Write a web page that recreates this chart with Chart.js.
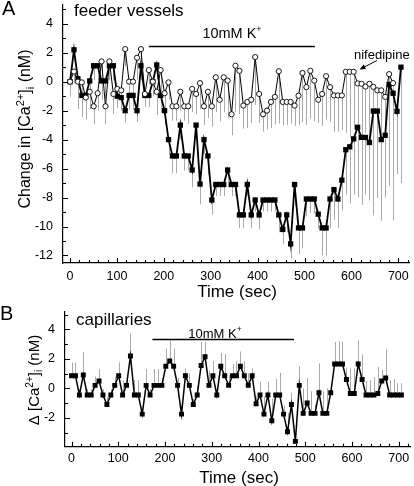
<!DOCTYPE html>
<html>
<head>
<meta charset="utf-8">
<script src="https://cdn.jsdelivr.net/npm/chart.js@4.4.1/dist/chart.umd.min.js"></script>
<style>
  html, body { margin: 0; padding: 0; background: #fff; }
  #wrap { position: relative; width: 414px; height: 486px; overflow: hidden; }
  canvas { position: absolute; left: 0; }
  #chartA { top: 0; }
  #chartB { top: 300px; }
</style>
</head>
<body>
<div id="wrap">
  <canvas id="chartA" width="414" height="302"></canvas>
  <canvas id="chartB" width="414" height="186"></canvas>
</div>
<script>
var FONT = '"Liberation Sans", Arial, Helvetica, sans-serif';

// sample times (sec), both panels
var time = [0, 8.4, 16.8, 25.2, 33.6, 42, 50.4, 58.8, 67.2, 75.6,
  84, 92.4, 100.8, 109.2, 117.6, 126, 134.4, 142.8, 151.2, 159.6,
  168, 176.4, 184.8, 193.2, 201.6, 210, 218.4, 226.8, 235.2, 243.6,
  252, 260.4, 268.8, 277.2, 285.6, 294, 302.4, 310.8, 319.2, 327.6,
  336, 344.4, 352.8, 361.2, 369.6, 378, 386.4, 394.8, 403.2, 411.6,
  420, 428.4, 436.8, 445.2, 453.6, 462, 470.4, 478.8, 487.2, 495.6,
  504, 512.4, 520.8, 529.2, 537.6, 546, 554.4, 562.8, 571.2, 579.6,
  588, 596.4, 604.8, 613.2, 621.6, 630, 638.4, 646.8, 655.2, 663.6,
  672, 680.4, 688.8, 697.2, 705.6];

// A: feeder vessels, 10mM K+ (filled squares), error bars downward
var feederK = [0, 2.2, 0.2, -0.95, -0.95, 0.05, 1.1, 1.1, 0.05, 0.05,
  1.1, 1.1, -1.0, -1.1, -2.0, -0.95, -0.95, -2.0, 1.1, -0.95,
  -0.95, 0.0, 1.15, -0.95, -2.0, -4.0, -5.13, -5.13, -3.0, -5.13,
  -5.13, -6.1, -3.0, -7.07, -4.0, -5.13, -8.17, -7.1, -7.1, -7.1,
  -6.1, -7.1, -7.1, -9.2, -9.2, -7.1, -9.2, -8.17, -9.2, -8.17,
  -8.17, -8.17, -8.17, -9.2, -10.2, -9.2, -11.2, -7.1, -10.1, -10.1,
  -8.1, -8.1, -8.1, -9.15, -10.1, -10.1, -8.1, -7.45, -8.1, -6.8,
  -4.7, -4.5, -3.95, -3.15, -3.85, -3.85, -4.2, -2.03, -2.03, -4.0,
  -3.7, -0.2, -0.8, -2.05, 1.0];
var feederKErr = [0.6, 0.8, 1.0, 1.5, 1.6, 1.0, 1.0, 1.0, 1.3, 1.2,
  1.0, 1.0, 0.8, 0.9, 0.8, 1.0, 1.0, 0.8, 1.0, 0.8,
  0.8, 1.0, 1.0, 1.2, 1.0, 1.0, 1.2, 1.2, 1.0, 1.0,
  1.0, 1.2, 1.0, 1.4, 1.0, 1.3, 1.0, 0.8, 0.8, 0.8,
  1.2, 0.8, 0.8, 0.9, 0.9, 0.8, 0.9, 0.8, 1.0, 0.8,
  0.8, 0.8, 0.8, 1.2, 1.0, 1.2, 1.0, 1.5, 1.8, 1.4,
  1.2, 1.0, 1.0, 1.0, 1.9, 1.9, 2.0, 2.1, 2.0, 2.1,
  3.1, 3.9, 3.85, 4.85, 4.65, 3.95, 4.0, 7.2, 6.0, 5.6,
  4.3, 7.0, 8.8, 4.35, 8.0];

// A: feeder vessels, nifedipine (open circles)
var feederNif = [0, 0.7, 0, -0.05, -1.1, -0.7, -1.7, -0.8, 1.4, -1.7,
  1.4, -0.85, -0.5, -0.6, 2.25, 0, 0, 1.65, 2.25, -0.85,
  0.8, 0, -0.7, 0.8, -0.8, -0.05, -1.7, -1.7, -0.7, -1.7,
  -1.7, -0.5, -0.85, -0.1, -1.7, -0.7, -1.7, 0.3, -1.25, 0.3,
  0.07, -2.25, 1.1, 0.75, -1.65, -1.4, -1.25, 1.7, -0.85, -2.25,
  -2.0, -1.4, -1.05, 0.72, -1.4, -1.4, -1.4, -1.65, -0.97, 0.6,
  -0.38, 0.75, 0.07, -1.25, -0.85, 0.38, -0.38, -0.95, -0.95, -0.95,
  0.68, 0.68, 0.68, -0.12, -0.15, -0.34, -0.15, -0.36, -0.6, -0.6,
  -1.05, 0.52, -0.1];
var feederNifErr = [1.0, 0.8, 1.9, 2.4, 1.5, 1.2, 1.25, 1.2, 1.0, 1.25,
  1.2, 1.4, 1.0, 0.9, 1.2, 1.5, 1.2, 1.5, 1.2, 0.9,
  1.0, 1.0, 1.6, 1.5, 1.2, 1.2, 1.0, 1.0, 1.3, 1.0,
  1.2, 1.6, 1.4, 1.8, 1.3, 1.8, 1.4, 2.4, 1.5, 2.4,
  2.6, 1.45, 3.2, 3.0, 1.6, 1.8, 1.6, 3.3, 2.0, 1.2,
  1.3, 1.8, 1.9, 3.6, 1.6, 1.6, 1.5, 1.4, 2.0, 3.4,
  2.6, 3.3, 2.8, 1.6, 2.2, 3.0, 2.4, 2.5, 2.5, 2.4,
  4.2, 4.6, 4.0, 3.8, 4.4, 3.2, 5.2, 3.6, 4.0, 5.4,
  3.4, 5.6, 4.2];

// B: capillaries, 10mM K+, error bars upward
var capK = [0.85, 0.85, -0.45, 0.9, -0.45, -0.45, 0.2, 0.5, -0.45, -1.1,
  -0.45, 0.2, 0.85, -0.45, 0.2, 2.2, -0.45, -0.45, -1.75, 0.2,
  -0.45, 0.2, 0.2, 0.2, 1.5, 1.85, 1.5, 0.2, -1.75, 0.85,
  0.2, -1.1, -0.45, 1.55, 2.15, 0.2, 0.85, -0.45, 1.5, 0.85,
  0.2, 0.85, 0.85, 1.5, 0.85, 0.2, 0.85, -1.05, -0.45, -1.75,
  -0.45, -2.2, -0.45, -0.45, -1.75, -2.95, -1.1, -3.6, 0.2, -1.7,
  -1.0, -1.7, -1.7, -0.3, -1.7, -1.7, -0.3, 1.65, 1.65, 1.65,
  0.6, -0.35, -0.35, 1.65, 0.6, -0.45, -0.45, -0.45, -0.35, 0.5,
  0.7, -0.45, -0.45, -0.45, -0.45];
var capKErr = [0.9, 0.9, 0.4, 1.55, 0.4, 0.4, 0.6, 0.8, 0.4, 0.5,
  0.4, 0.6, 0.9, 1.0, 0.5, 1.5, 1.0, 1.0, 0.5, 1.1,
  0.4, 1.1, 1.1, 0.5, 1.2, 1.4, 1.2, 0.5, 0.6, 0.5,
  0.8, 0.4, 0.6, 1.6, 1.0, 1.0, 1.0, 0.6, 0.9, 1.5,
  0.7, 0.8, 1.0, 1.0, 1.0, 0.8, 0.5, 0.5, 0.9, 1.2,
  0.9, 1.5, 1.1, 1.5, 0.6, 1.3, 0.8, 0.6, 1.3, 1.7,
  1.7, 1.5, 0.6, 2.0, 1.5, 1.7, 0.6, 1.5, 1.55, 1.5,
  0.8, 1.7, 1.7, 1.6, 1.7, 0.95, 1.0, 1.2, 1.8, 0.75,
  1.95, 1.0, 1.1, 0.8, 0.8];

var xTicks = [0, 100, 200, 300, 400, 500, 600, 700];
var yTicksA = [-12, -10, -8, -6, -4, -2, 0, 2, 4];
var yTicksB = [-2, 0, 2, 4];

function toPoints(vals) {
  return vals.map(function (v, i) { return { x: time[i], y: v }; });
}

function axisX(min, max, h, pad) {
  return {
    type: 'linear', min: min, max: max,
    grid: { drawOnChartArea: false, drawTicks: false },
    border: { color: '#000', width: 1.2 },
    ticks: { color: '#000', font: { family: FONT, size: 12.5 }, padding: pad, maxRotation: 0, autoSkip: false,
      callback: function (v) { return String(v); } },
    afterBuildTicks: function (s) { s.ticks = xTicks.map(function (v) { return { value: v }; }); },
    afterFit: function (s) { s.height = h; s.paddingLeft = 0; s.paddingRight = 0; }
  };
}

function axisY(min, max, vals, w) {
  return {
    type: 'linear', min: min, max: max,
    grid: { drawOnChartArea: false, drawTicks: false },
    border: { color: '#000', width: 1.2 },
    ticks: { color: '#000', font: { family: FONT, size: 12.5 }, padding: 10,
      callback: function (v) { return String(v); } },
    afterBuildTicks: function (s) { s.ticks = vals.map(function (v) { return { value: v }; }); },
    afterFit: function (s) { s.width = w; s.paddingTop = 0; s.paddingBottom = 0; }
  };
}

// gray error bars, drawn behind the lines
var errorBars = {
  id: 'errorBars',
  beforeDatasetsDraw: function (chart) {
    var ctx = chart.ctx, x = chart.scales.x, y = chart.scales.y, a = chart.chartArea;
    ctx.save();
    ctx.beginPath();
    ctx.rect(a.left, a.top, a.right - a.left, a.bottom - a.top);
    ctx.clip();
    ctx.strokeStyle = '#a9a9a9';
    ctx.lineWidth = 1;
    chart.data.datasets.forEach(function (ds) {
      if (!ds.err) return;
      ds.data.forEach(function (p, i) {
        var px = Math.round(x.getPixelForValue(p.x)) + 0.5;
        ctx.beginPath();
        ctx.moveTo(px, y.getPixelForValue(p.y));
        ctx.lineTo(px, y.getPixelForValue(p.y + ds.errDir * ds.err[i]));
        ctx.stroke();
      });
    });
    ctx.restore();
  }
};

// tick marks pointing into the plot, majors and minors
var inwardTicks = {
  id: 'inwardTicks',
  afterDraw: function (chart) {
    var ctx = chart.ctx, x = chart.scales.x, y = chart.scales.y, a = chart.chartArea;
    ctx.save();
    ctx.strokeStyle = '#000';
    ctx.lineWidth = 1.1;
    ctx.beginPath();
    for (var v = 0; v <= x.max; v += 20) {
      var px = Math.round(x.getPixelForValue(v)) + 0.5;
      ctx.moveTo(px, a.bottom);
      ctx.lineTo(px, a.bottom - (v % 100 === 0 ? 5 : 3));
    }
    for (var w = Math.ceil(y.min); w <= y.max; w++) {
      var py = Math.round(y.getPixelForValue(w)) + 0.5;
      ctx.moveTo(a.left, py);
      ctx.lineTo(a.left + (w % 2 === 0 ? 5 : 3), py);
    }
    ctx.stroke();
    ctx.restore();
  }
};

// text with super/subscript parts: [text, size, dy]
function richText(ctx, parts, x, y, align, rotated) {
  ctx.save();
  ctx.translate(x, y);
  if (rotated) ctx.rotate(-Math.PI / 2);
  ctx.fillStyle = '#000';
  ctx.textAlign = 'left';
  ctx.textBaseline = 'alphabetic';
  var w = 0;
  parts.forEach(function (p) { ctx.font = p[1] + 'px ' + FONT; w += ctx.measureText(p[0]).width; });
  var cx = align === 'center' ? -w / 2 : 0;
  parts.forEach(function (p) {
    ctx.font = p[1] + 'px ' + FONT;
    ctx.fillText(p[0], cx, p[2] || 0);
    cx += ctx.measureText(p[0]).width;
  });
  ctx.restore();
}

function kBar(chart, t0, t1, level) {
  var ctx = chart.ctx, x = chart.scales.x, y = chart.scales.y;
  var py = Math.round(y.getPixelForValue(level)) + 0.5;
  ctx.save();
  ctx.strokeStyle = '#000';
  ctx.lineWidth = 1.3;
  ctx.beginPath();
  ctx.moveTo(x.getPixelForValue(t0), py);
  ctx.lineTo(x.getPixelForValue(t1), py);
  ctx.stroke();
  ctx.restore();
}

var notesA = {
  id: 'notesA',
  afterDraw: function (chart) {
    var ctx = chart.ctx;
    richText(ctx, [['A', 20]], 2, 15);
    richText(ctx, [['feeder vessels', 17]], 74, 16);
    kBar(chart, 168, 522, 2.46);
    richText(ctx, [['10mM K', 14.5], ['+', 9, -6]], 232, 38, 'center');
    richText(ctx, [['nifedipine', 13]], 354, 59);
    // arrow to the nifedipine trace
    var x0 = 377, y0 = 60.5, x1 = 359.5, y1 = 69.5;
    var dx = x1 - x0, dy = y1 - y0, L = Math.sqrt(dx * dx + dy * dy);
    dx /= L; dy /= L;
    ctx.save();
    ctx.strokeStyle = '#000'; ctx.fillStyle = '#000'; ctx.lineWidth = 1;
    ctx.beginPath(); ctx.moveTo(x0, y0); ctx.lineTo(x1 - dx * 4, y1 - dy * 4); ctx.stroke();
    ctx.beginPath();
    ctx.moveTo(x1, y1);
    ctx.lineTo(x1 - dx * 6 - dy * 2.5, y1 - dy * 6 + dx * 2.5);
    ctx.lineTo(x1 - dx * 6 + dy * 2.5, y1 - dy * 6 - dx * 2.5);
    ctx.closePath(); ctx.fill();
    ctx.restore();
    richText(ctx, [['Time (sec)', 17]], 237, 297, 'center');
    richText(ctx, [['Change in [Ca', 16], ['2+', 11, -6.5], [']', 16], ['i', 11, 3.5], [' (nM)', 16]], 30, 129, 'center', true);
  }
};

var notesB = {
  id: 'notesB',
  afterDraw: function (chart) {
    var ctx = chart.ctx;
    richText(ctx, [['B', 20]], 0, 20);
    richText(ctx, [['capillaries', 17]], 76, 25);
    kBar(chart, 173, 476, 3.35);
    richText(ctx, [['10mM K', 13], ['+', 8.5, -5.5]], 215, 37.5, 'center');
    richText(ctx, [['Time (sec)', 17]], 239, 183, 'center');
    richText(ctx, [['\u0394 [Ca', 15], ['2+', 10, -6], [']', 15], ['i', 10, 3], [' (nM)', 15]], 39, 80, 'center', true);
  }
};

new Chart(document.getElementById('chartA'), {
  type: 'line',
  data: {
    datasets: [{
      label: '10mM K+',
      data: toPoints(feederK), err: feederKErr, errDir: -1, order: 1,
      borderColor: '#000', borderWidth: 1.8, tension: 0,
      pointStyle: 'rect', pointRadius: 3.75, pointBackgroundColor: '#000', pointBorderWidth: 0
    }, {
      label: 'nifedipine',
      data: toPoints(feederNif), err: feederNifErr, errDir: -1, order: 0,
      borderColor: '#000', borderWidth: 1, tension: 0,
      pointStyle: 'circle', pointRadius: 2.6, pointBackgroundColor: '#fff',
      pointBorderColor: '#000', pointBorderWidth: 0.9
    }]
  },
  options: {
    responsive: false, animation: false, devicePixelRatio: 1,
    layout: { padding: { top: 0, right: 1, left: 0, bottom: 0 } },
    plugins: { legend: { display: false }, tooltip: { enabled: false } },
    scales: {
      x: axisX(-15, 723, 39, 6),
      y: axisY(-12.52, 5.3, yTicksA, 63)
    }
  },
  plugins: [errorBars, inwardTicks, notesA]
});

new Chart(document.getElementById('chartB'), {
  type: 'line',
  data: {
    datasets: [{
      label: '10mM K+',
      data: toPoints(capK), err: capKErr, errDir: 1,
      borderColor: '#000', borderWidth: 1.5, tension: 0,
      pointStyle: 'rect', pointRadius: 3.5, pointBackgroundColor: '#000', pointBorderWidth: 0
    }]
  },
  options: {
    responsive: false, animation: false, devicePixelRatio: 1,
    layout: { padding: { top: 11.7, right: 1, left: 0, bottom: 0 } },
    plugins: { legend: { display: false }, tooltip: { enabled: false } },
    scales: {
      x: axisX(-14, 724, 39.3, 4),
      y: axisY(-3.96, 5.2, yTicksB, 65)
    }
  },
  plugins: [errorBars, inwardTicks, notesB]
});
</script>
</body>
</html>
